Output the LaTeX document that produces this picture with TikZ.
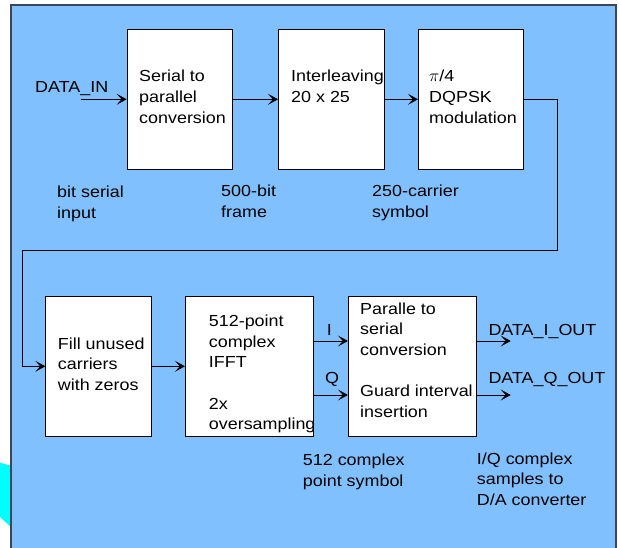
\documentclass[tikz,border=0pt]{standalone}
\usepackage{fontspec}
\setmainfont{Liberation Sans}[FakeStretch=1.12]
\usetikzlibrary{arrows.meta}
\definecolor{bgblue}{RGB}{128,192,255}
\definecolor{cyanish}{RGB}{0,255,255}
\definecolor{frame}{RGB}{60,70,90}
\tikzset{
  box/.style={draw=black, line width=0.8pt, fill=white, inner sep=0pt},
  lbl/.style={anchor=base west, align=left, inner sep=0pt, font=\fontsize{16}{20.6}\selectfont},
  arr/.style={draw=black, line width=0.8pt, -{Stealth[length=10pt,width=11pt,inset=5pt]}},
  wire/.style={draw=black, line width=0.8pt}
}
\begin{document}
\begin{tikzpicture}[x=1pt,y=-1pt]
\useasboundingbox (0,0) rectangle (619,548);
% background pieces
\fill[cyanish] (0,462.7) -- (12,466) -- (12,528) -- (0,517) -- cycle;
\fill[bgblue] (11,5) rectangle (616,560);
\draw[frame, line width=1.2pt] (11,560) -- (11,5) -- (616,5) -- (616,560);
% boxes
\node[box, minimum width=105pt, minimum height=140pt] (b1) at (179.5,99.3) {};
\node[box, minimum width=105.7pt, minimum height=140pt] (b2) at (331.2,99.3) {};
\node[box, minimum width=105pt, minimum height=140pt] (b3) at (470.8,99.3) {};
\node[box, minimum width=106pt, minimum height=139.3pt] (b4) at (98.7,366.3) {};
\node[box, minimum width=128.4pt, minimum height=139.3pt] (b5) at (249.5,366.3) {};
\node[box, minimum width=128.4pt, minimum height=139.3pt] (b6) at (412.5,366.3) {};
% box texts (anchored at the baseline of the last line)
\node[lbl] (t1) at (139,123.2) {Serial to\\parallel\\conversion};
\node[lbl] (t2) at (291,102.6) {Interleaving\\20 x 25};
\node[lbl] (t3) at (429,123.2) {\(\pi\)/4\\DQPSK\\modulation};
\node[lbl] (t4) at (57.7,390.2) {Fill unused\\carriers\\with zeros};
\node[lbl] (t5) at (208.7,429.7) {512-point\\complex\\IFFT\\[20.6pt]2x\\oversampling};
\node[lbl] (t6) at (360,417) {Paralle to\\serial\\conversion\\[20.6pt]Guard interval\\insertion};
% outside labels
\node[lbl] (din) at (35,93) {DATA\_IN};
\node[lbl] (n1) at (57,218.6) {bit serial\\input};
\node[lbl] (n2) at (221,217.6) {500-bit\\frame};
\node[lbl] (n3) at (372,217.6) {250-carrier\\symbol};
\node[lbl] (li) at (326.7,336) {I};
\node[lbl] (lq) at (325,383) {Q};
\node[lbl] (dio) at (488.3,336) {DATA\_I\_OUT};
\node[lbl] (dqo) at (488.3,383) {DATA\_Q\_OUT};
\node[lbl] (n4) at (302.7,486.3) {512 complex\\point symbol};
\node[lbl] (n5) at (476.7,505.2) {I/Q complex\\samples to\\D/A converter};
% connectors
\coordinate (inS) at (81,99.3);
\coordinate (rt) at (557.3,250);
\coordinate (lt) at (22.7,250);
\coordinate (iS) at (313.7,341);
\coordinate (qS) at (313.7,395);
\coordinate (iE) at (510.7,341);
\coordinate (qE) at (510.7,395);
\draw[arr] (inS) -- (b1.west);
\draw[arr] (b1.east) -- (b2.west);
\draw[arr] (b2.east) -- (b3.west);
\draw[arr] (b3.east) -| (rt) -- (lt) |- (b4.west);
\draw[arr] (b4.east) -- (b5.west);
\draw[arr] (iS) -- (iS -| b6.west);
\draw[arr] (qS) -- (qS -| b6.west);
\draw[arr] (iE -| b6.east) -- (iE);
\draw[arr] (qE -| b6.east) -- (qE);
\end{tikzpicture}
\end{document}
